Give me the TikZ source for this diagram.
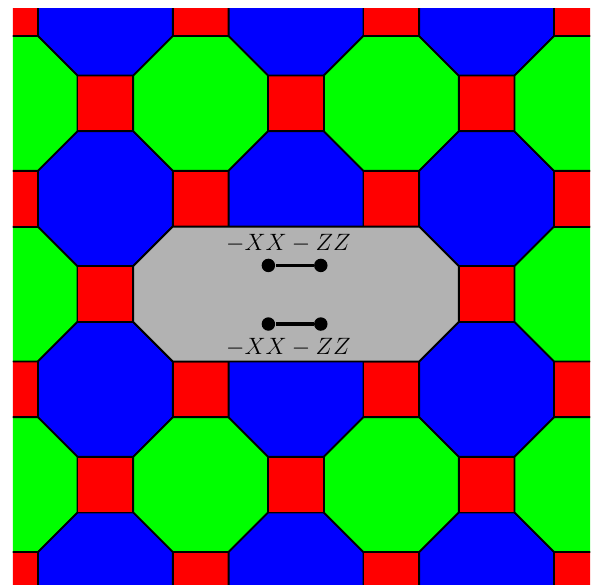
\documentclass[tikz,border=0pt]{standalone}
\usepackage{amsmath}
\usetikzlibrary{positioning}

\begin{document}
\begin{tikzpicture}[x=1.7cm, y=1.7cm,
  tile/.style={draw=black, line width=0.9pt},
  dot/.style={circle, fill=black, inner sep=0pt, minimum size=0.24cm},
  bond/.style={line width=1.6pt},
  lbl/.style={font=\large}]
\pgfmathsetmacro{\sqh}{1-sqrt(2)/2}
\pgfmathsetmacro{\octh}{sqrt(2)/2}
\useasboundingbox (-3.106,-3.043) rectangle (3.137,3.085);

% Tiling: red squares, blue and green octagons
\begin{scope}
\clip (-2.97,-3.05) rectangle (3.085,3.0);
\foreach \i in {-4,...,4}{
  \foreach \j in {-4,...,4}{
    \pgfmathtruncatemacro{\odd}{mod(\i+\j+8,2)}
    \pgfmathtruncatemacro{\jodd}{mod(\j+8,2)}
    \ifnum\odd=0
      \draw[tile, fill=red] (\i-\sqh,\j-\sqh) rectangle (\i+\sqh,\j+\sqh);
    \else
      \ifnum\jodd=1 \def\fc{blue}\else\def\fc{green}\fi
      \draw[tile, fill=\fc] (\i-\sqh,\j+\octh) -- (\i+\sqh,\j+\octh)
        -- (\i+\octh,\j+\sqh) -- (\i+\octh,\j-\sqh) -- (\i+\sqh,\j-\octh)
        -- (\i-\sqh,\j-\octh) -- (\i-\octh,\j-\sqh) -- (\i-\octh,\j+\sqh) -- cycle;
    \fi
  }
}
\end{scope}

% Grey region over two merged octagons
\draw[tile, fill=black!30] (-1-\octh,\sqh) -- (-1-\sqh,\octh) -- (1+\sqh,\octh)
  -- (1+\octh,\sqh) -- (1+\octh,-\sqh) -- (1+\sqh,-\octh) -- (-1-\sqh,-\octh)
  -- (-1-\octh,-\sqh) -- cycle;

% Dimers
\node[dot] (t1) at (-0.29,0.30) {};
\node[dot] (t2) at (0.26,0.30) {};
\node[dot] (b1) at (-0.29,-0.315) {};
\node[dot] (b2) at (0.26,-0.315) {};
\draw[bond] (t1) -- (t2);
\draw[bond] (b1) -- (b2);
\node[lbl] (tlab) at (-0.08,0.535) {$-XX-ZZ$};
\node[lbl] (blab) at (-0.08,-0.556) {$-XX-ZZ$};
\end{tikzpicture}
\end{document}
